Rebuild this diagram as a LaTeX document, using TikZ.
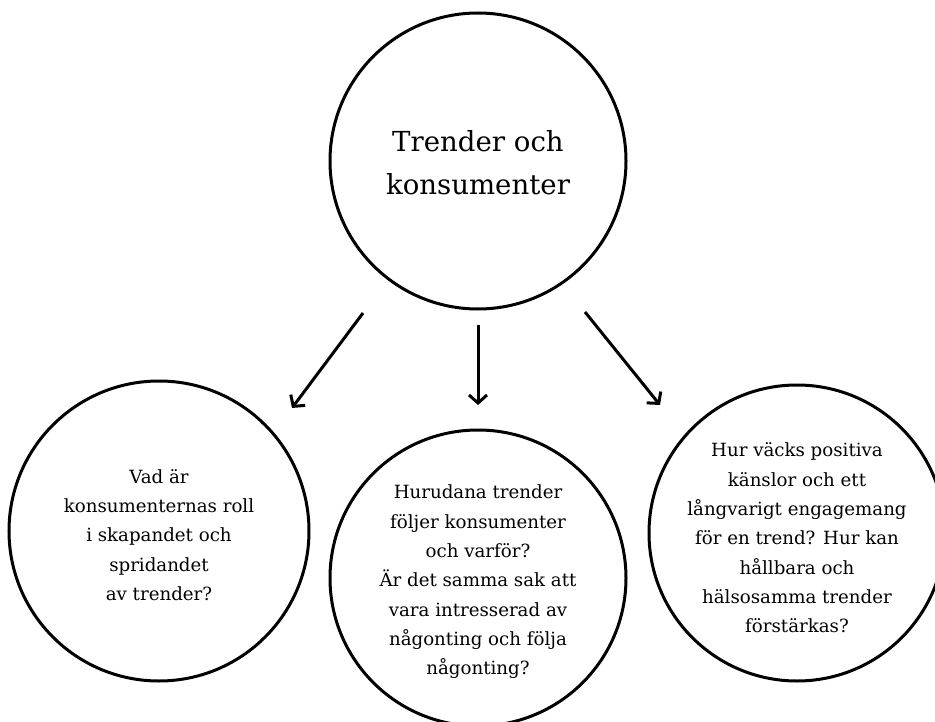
\documentclass[tikz,border=0pt]{standalone}
\usepackage{fontspec}
\setmainfont{DejaVu Serif}
\usetikzlibrary{arrows.meta}
\begin{document}
\begin{tikzpicture}[x=1pt,y=-1pt,
  bubble/.style={circle,draw=black,line width=3pt,minimum size=296pt,inner sep=0pt},
  label/.style={align=center,inner sep=0pt,font=\fontsize{18.2}{29.3}\selectfont},
  toplabel/.style={align=center,inner sep=0pt,font=\fontsize{27.6}{43}\selectfont},
  arr/.style={line width=3pt,-{Straight Barb[length=8pt,width=18pt]}}]
\useasboundingbox (0,0) rectangle (935,722);
\fill[white] (0,0) rectangle (935,722);
\clip (0,0) rectangle (935,722);
\node[bubble] (top) at (478,161) {};
\node[bubble,minimum size=300pt] (left) at (159,531) {};
\node[bubble] (mid) at (478,578) {};
\node[bubble] (right) at (797,533) {};
\node[toplabel] (topt) at (478,163) {Trender och\\konsumenter};
\node[label] (leftt) at (159,535) {Vad är\\konsumenternas roll\\i skapandet och\\spridandet\\av trender?};
\node[label] (midt) at (478,582) {Hurudana trender\\följer konsumenter\\och varför?\\Är det samma sak att\\vara intresserad av\\någonting och följa\\någonting?};
\node[label] (rightt) at (797,538) {Hur väcks positiva\\känslor och ett\\långvarigt engagemang\\för en trend? Hur kan\\hållbara och\\hälsosamma trender\\förstärkas?};
\coordinate (a1s) at (363,313);
\coordinate (a1e) at (292,408);
\coordinate (a2s) at (478,325);
\coordinate (a2e) at (478,405);
\coordinate (a3s) at (585,312);
\coordinate (a3e) at (660,405);
\draw[arr] (a1s) -- (a1e);
\draw[arr] (a2s) -- (a2e);
\draw[arr] (a3s) -- (a3e);
\end{tikzpicture}
\end{document}
